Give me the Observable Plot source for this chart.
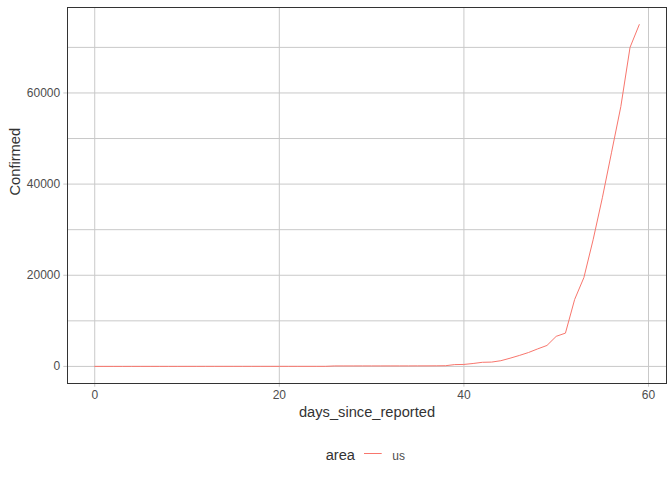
<!DOCTYPE html>
<html>
<head>
<meta charset="utf-8">
<script src="https://cdn.jsdelivr.net/npm/d3@7"></script>
<script src="https://cdn.jsdelivr.net/npm/@observablehq/plot@0.6"></script>
<style>
  body { margin: 0; background: #fff; font-family: "Liberation Sans", Arial, sans-serif; }
  #chart svg { display: block; }
</style>
</head>
<body>
<div id="chart"></div>
<script>
// ---- data ----
const days = [0,1,2,3,4,5,6,7,8,9,10,11,12,13,14,15,16,17,18,19,
              20,21,22,23,24,25,26,27,28,29,30,31,32,33,34,35,36,37,38,39,
              40,41,42,43,44,45,46,47,48,49,50,51,52,53,54,55,56,57,58,59];
const confirmed = [1,1,2,2,5,5,5,5,5,7,8,8,11,11,11,11,12,12,12,12,
                   12,13,13,14,14,14,100,100,100,105,105,105,110,110,110,115,120,130,150,400,
                   430,640,900,950,1250,1800,2400,3050,3850,4600,6600,7300,14700,19500,27800,37000,47000,57000,70000,75000];
const areaName = "us";
const xTicks = [0, 20, 40, 60];
const yTicks = [0, 20000, 40000, 60000];
const yGrid = [0, 10000, 20000, 30000, 40000, 50000, 60000, 70000];
const xLabel = "days_since_reported";
const yLabel = "Confirmed";
const legendTitle = "area";

// ---- styles ----
const lineColor = "#F8766D";
const gridColor = "#c9c9c9";
const tickText = "#4d4d4d";
const titleText = "#333333";
const font = '"Liberation Sans", Arial, sans-serif';

const data = days.map((d, i) => ({day: d, confirmed: confirmed[i], area: areaName}));
const xMin = d3.min(days), xMax = d3.max(days);
const yMin = d3.min([0, ...confirmed]), yMax = d3.max(confirmed);
const xPad = (xMax - xMin) * 0.05, yPad = (yMax - yMin) * 0.05;

const plot = Plot.plot({
  width: 672,
  height: 432,
  marginLeft: 67,
  marginRight: 6,
  marginTop: 7,
  marginBottom: 49,
  style: {fontFamily: font, fontSize: "12px", background: "#fff"},
  x: {domain: [xMin - xPad, xMax + xPad]},
  y: {domain: [yMin - yPad, yMax + yPad]},
  marks: [
    Plot.gridX(xTicks, {stroke: gridColor, strokeOpacity: 1, strokeWidth: 1}),
    Plot.gridY(yGrid, {stroke: gridColor, strokeOpacity: 1, strokeWidth: 1}),
    Plot.axisX(xTicks, {tickSize: 3.7, tickPadding: 3.5, stroke: gridColor, fill: tickText, fontSize: 12, tickFormat: d3.format("d"), label: null}),
    Plot.axisY(yTicks, {tickSize: 3.7, tickPadding: 3.6, stroke: gridColor, fill: tickText, fontSize: 12, tickFormat: d3.format("d"), label: null}),
    Plot.line(data, {x: "day", y: "confirmed", stroke: lineColor, strokeWidth: 1}),
    Plot.frame({stroke: "#333333", strokeWidth: 1}),
    Plot.text([xLabel], {text: d => d, frameAnchor: "bottom", lineAnchor: "bottom", dy: 33, fontSize: 14.67, fill: titleText}),
    Plot.text([yLabel], {text: d => d, frameAnchor: "left", rotate: -90, dx: -52, fontSize: 14.67, fill: titleText})
  ]
});
document.getElementById("chart").appendChild(plot);

// ---- legend below the plot ----
const legend = d3.select("#chart").append("svg")
  .attr("width", 672).attr("height", 48)
  .style("display", "block")
  .style("font-family", font);
legend.append("text").attr("x", 325.7).attr("y", 28).attr("fill", titleText)
  .attr("font-size", 14.67).text(legendTitle);
legend.append("line").attr("x1", 364).attr("x2", 381.7).attr("y1", 21.5).attr("y2", 21.5)
  .attr("stroke", lineColor).attr("stroke-width", 1);
legend.append("text").attr("x", 392.3).attr("y", 27.5).attr("fill", tickText)
  .attr("font-size", 12).text(areaName);
</script>
</body>
</html>
